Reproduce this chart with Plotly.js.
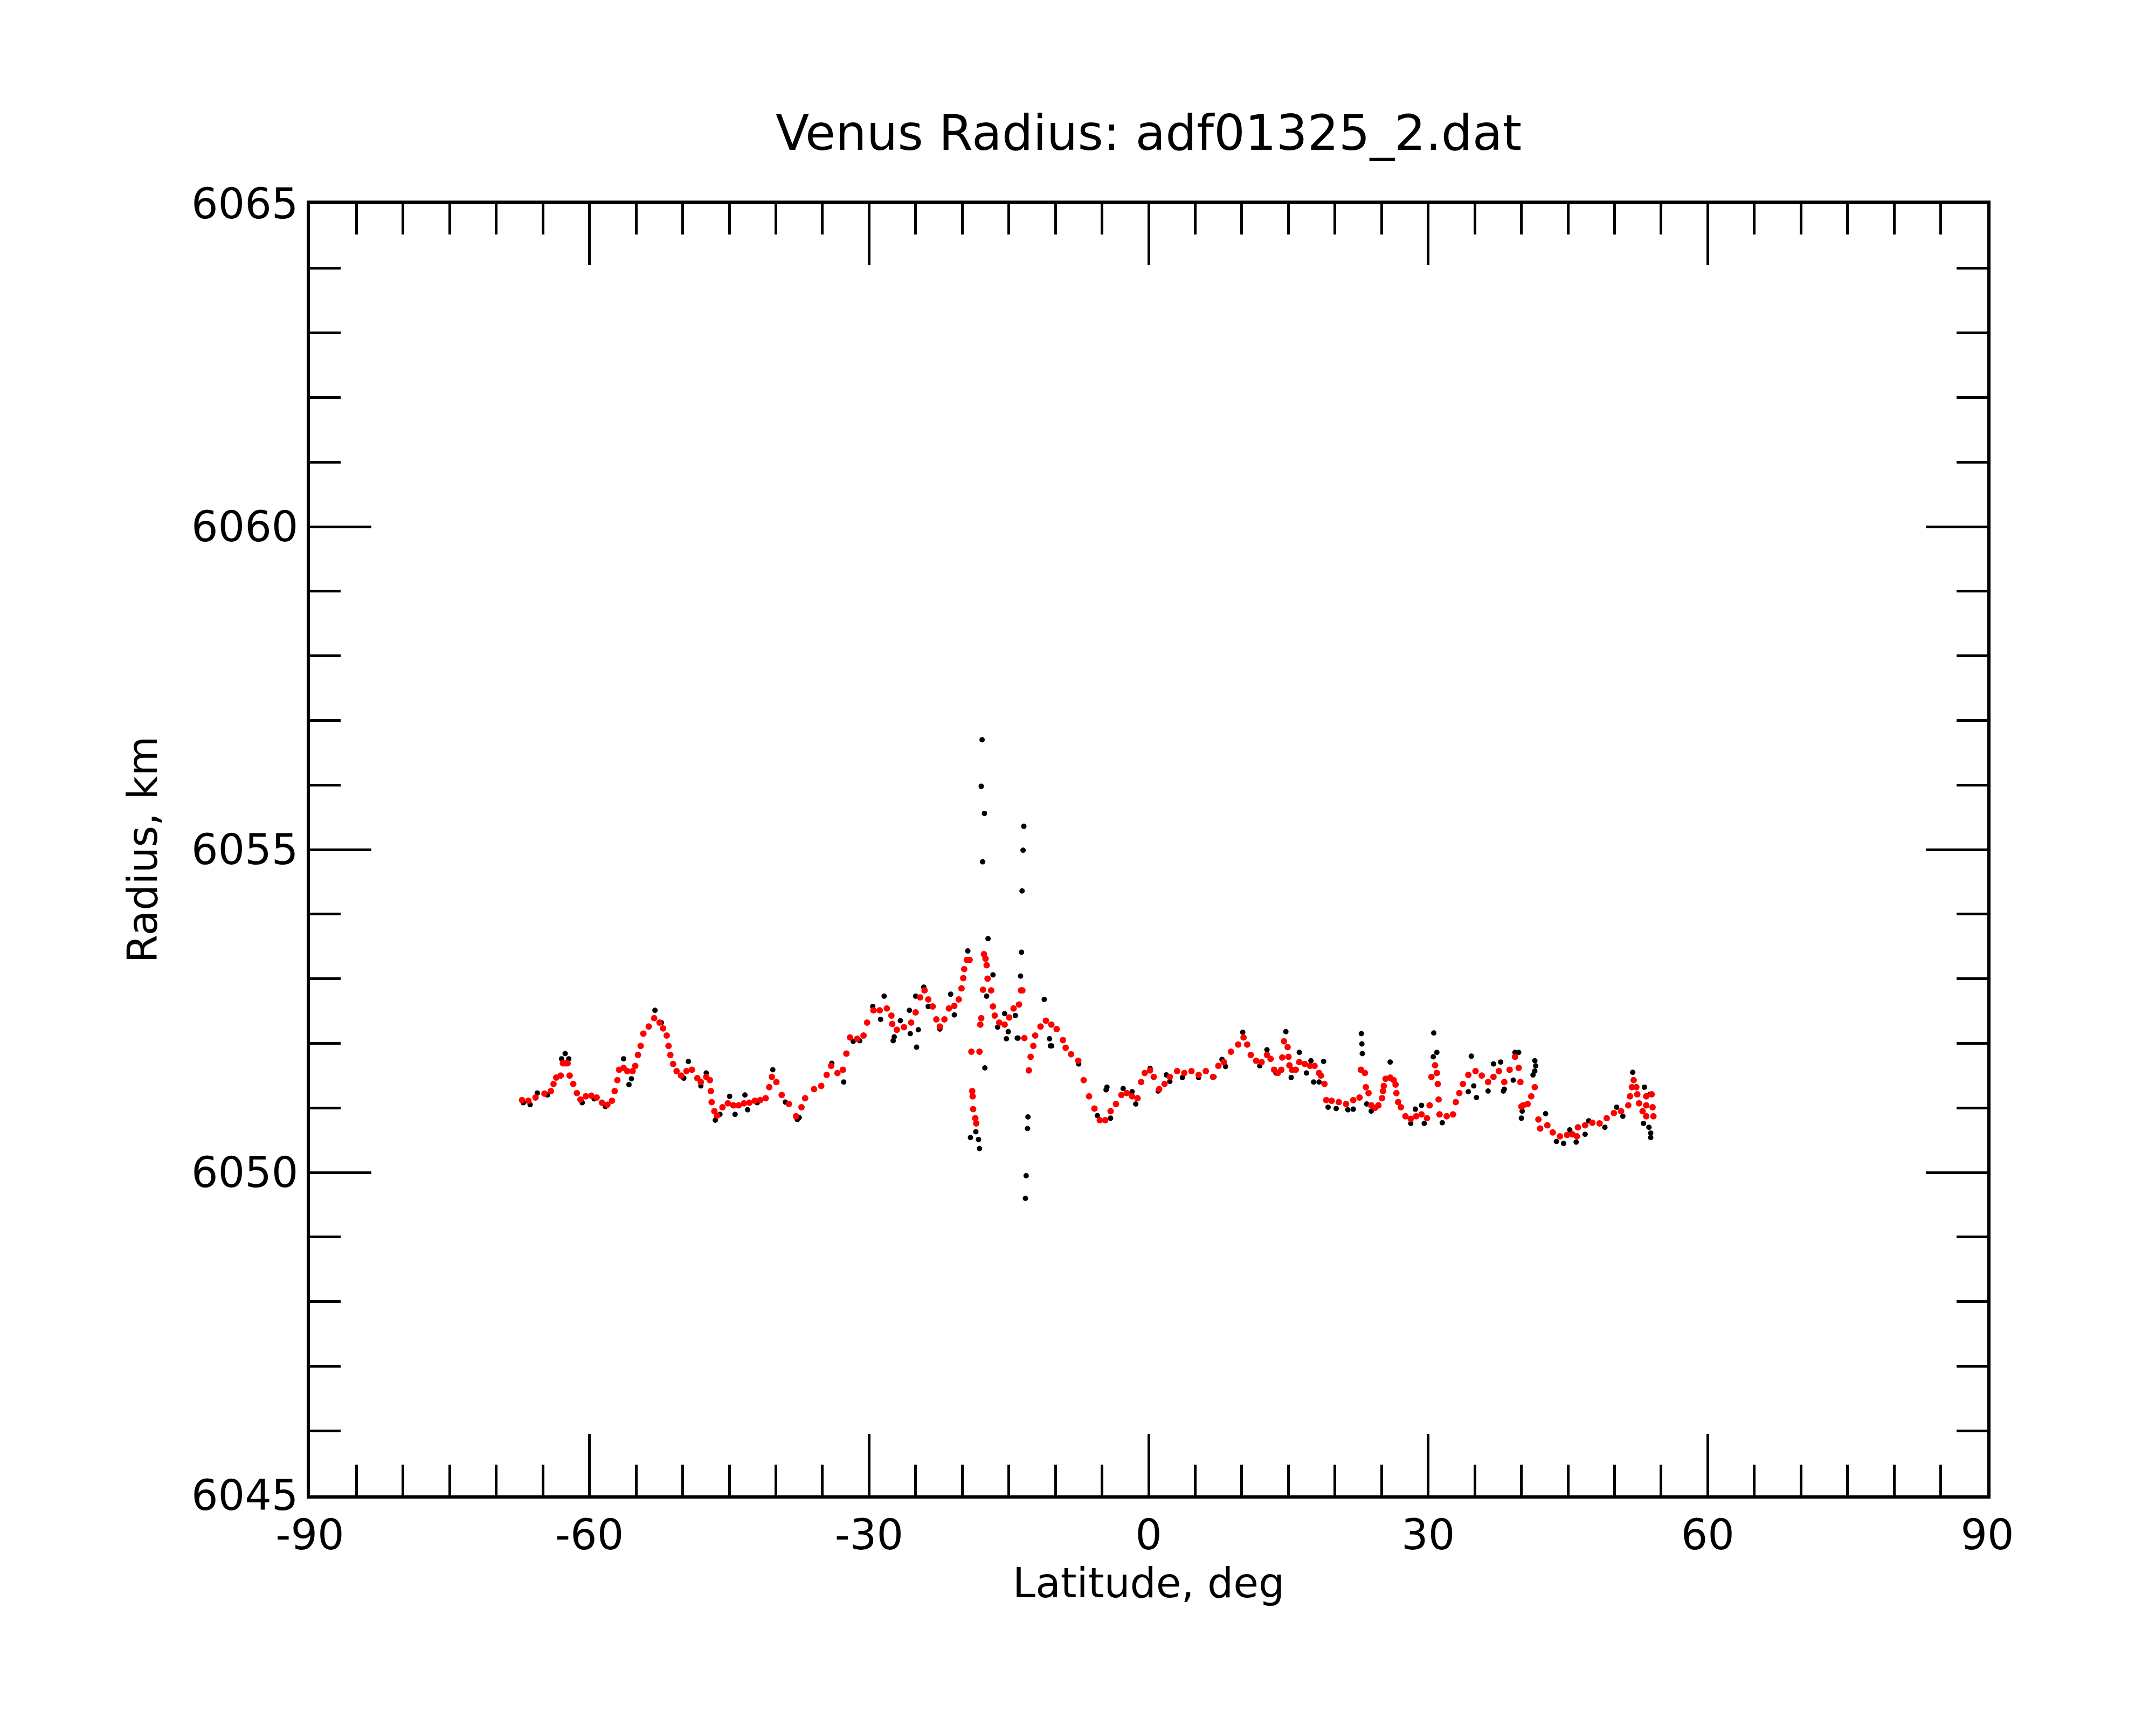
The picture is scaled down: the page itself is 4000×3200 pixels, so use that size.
<!DOCTYPE html>
<html>
<head>
<meta charset="utf-8">
<script src="https://cdn.plot.ly/plotly-3.0.1.min.js"></script>
<style>html,body{margin:0;padding:0;background:#fff;}</style>
</head>
<body>
<div id="chart" style="width:4000px;height:3200px;"></div>
<script>
// Smoothed radius (red)
const smoothLat = [-67.24,-66.56,-65.79,-64.83,-64.15,-63.86,-63.57,-63.09,-62.85,-62.6,-62.35,-62.13,-61.74,-61.35,-60.97,-60.39,-59.81,-59.23,-58.66,-58.08,-57.59,-57.30,-57.01,-56.82,-56.34,-55.95,-55.37,-55.09,-54.8,-54.51,-54.22,-53.64,-53.06,-52.48,-52.1,-51.71,-51.52,-51.32,-51.03,-50.65,-50.17,-49.59,-49.01,-48.43,-48.05,-47.47,-47.08,-46.98,-46.89,-46.6,-46.31,-45.73,-45.15,-44.57,-44.0,-43.42,-42.84,-42.26,-41.68,-41.1,-40.71,-40.43,-39.94,-39.37,
-38.6,-37.83,-37.25,-36.86,-35.9,-35.13,-34.55,-34.07,-33.39,-32.81,-32.43,-32.04,-31.27,-30.59,-30.21,-29.53,-28.86,-28.09,-27.6,-27.51,-27.02,-26.25,-25.48,-25.0,-24.52,-24.04,-23.65,-23.17,-22.78,-22.4,-21.91,-21.43,-20.85,-20.37,-20.08,-19.89,-19.79,-19.5,-19.21,-19.02,-18.93,-18.88,-18.83,-18.6,-18.5,-18.15,-18.06,-17.96,-17.77,-17.67,-17.5,-17.38,-17.28,-16.9,-16.70,-16.51,-16.03,-15.45,-14.97,-14.49,-13.91,-13.7,-13.55,-13.33,-12.85,-12.66,-12.37,-12.17,-11.6,-11.02,-10.44,
-9.87,-9.19,-8.9,-8.32,-7.55,-6.97,-6.39,-5.81,-5.24,-4.66,-4.08,-3.5,-2.92,-2.35,-1.77,-1.19,-0.8,-0.42,0.16,0.55,1.13,1.71,2.28,3.06,3.83,4.6,5.37,6.14,6.91,7.49,8.07,8.84,9.61,10.19,10.58,10.96,11.54,12.12,12.7,13.09,13.47,13.86,14.24,14.34,14.53,14.92,15.01,15.11,15.4,15.79,16.17,16.75,17.33,17.81,18.29,18.49,18.87,19.06,19.64,20.41,21.19,21.96,22.63,22.78,23.21,23.31,23.6,23.89,24.28,
24.66,25.05,25.15,25.24,25.43,25.92,26.3,26.5,26.59,26.78,27.07,27.56,28.13,28.71,29.29,29.87,30.16,30.35,30.74,30.93,31.03,31.12,31.22,31.99,32.67,32.96,33.34,33.73,34.31,35.08,35.75,36.43,37.01,37.59,38.17,38.74,39.32,39.71,39.9,40.0,40.19,40.67,41.06,41.44,41.83,42.02,42.79,43.37,44.14,44.91,45.49,45.97,46.07,46.84,47.61,48.39,49.16,49.93,50.7,51.47,51.66,51.86,52.05,52.34,52.44,52.63,53.01,53.4,53.4,53.4,53.98,54.08,54.17];
const smoothRadius = [6051.12,6051.11,6051.16,6051.22,6051.26,6051.37,6051.47,6051.50,6051.69,6051.69,6051.69,6051.50,6051.37,6051.23,6051.13,6051.18,6051.19,6051.16,6051.08,6051.05,6051.11,6051.26,6051.43,6051.59,6051.62,6051.57,6051.57,6051.65,6051.82,6051.96,6052.15,6052.26,6052.39,6052.32,6052.23,6052.12,6051.96,6051.82,6051.68,6051.57,6051.50,6051.57,6051.59,6051.46,6051.40,6051.48,6051.43,6051.26,6051.09,6050.95,6050.88,6051.01,6051.07,6051.04,6051.04,6051.07,6051.08,6051.11,6051.12,6051.15,6051.32,6051.48,6051.40,6051.20,
6051.06,6050.87,6051.01,6051.15,6051.29,6051.34,6051.51,6051.65,6051.54,6051.59,6051.84,6052.09,6052.07,6052.12,6052.32,6052.51,6052.51,6052.54,6052.43,6052.30,6052.21,6052.25,6052.32,6052.48,6052.71,6052.82,6052.68,6052.57,6052.37,6052.26,6052.37,6052.54,6052.58,6052.68,6052.85,6053.01,6053.15,6053.29,6053.29,6051.87,6051.26,6051.18,6050.98,6050.84,6050.76,6051.87,6052.29,6052.39,6052.83,6053.38,6053.31,6053.21,6053.00,6052.82,6052.57,6052.43,6052.32,6052.29,6052.40,6052.54,6052.60,6052.82,6052.82,6052.08,6051.58,6051.79,6051.96,6052.12,6052.26,6052.35,6052.29,
6052.22,6052.05,6051.93,6051.83,6051.73,6051.43,6051.18,6050.99,6050.81,6050.81,6050.95,6051.06,6051.20,6051.23,6051.18,6051.15,6051.40,6051.54,6051.58,6051.48,6051.29,6051.37,6051.48,6051.57,6051.54,6051.57,6051.51,6051.57,6051.48,6051.65,6051.71,6051.87,6051.98,6052.09,6051.98,6051.82,6051.73,6051.71,6051.82,6051.76,6051.59,6051.54,6051.59,6051.78,6052.03,6051.94,6051.79,6051.66,6051.59,6051.59,6051.71,6051.68,6051.65,6051.65,6051.54,6051.50,6051.37,6051.12,6051.11,6051.09,6051.06,6051.12,6051.16,6051.59,6051.54,6051.32,6051.23,6051.04,6051.00,
6051.04,6051.15,6051.26,6051.34,6051.45,6051.47,6051.43,6051.36,6051.23,6051.09,6051.01,6050.87,6050.83,6050.87,6050.90,6050.84,6051.04,6051.48,6051.66,6051.54,6051.37,6051.13,6050.90,6050.87,6050.90,6051.09,6051.23,6051.37,6051.51,6051.57,6051.50,6051.40,6051.48,6051.57,6051.40,6051.59,6051.79,6051.62,6051.40,6051.02,6051.04,6051.06,6051.18,6051.32,6050.82,6050.68,6050.73,6050.62,6050.56,6050.58,6050.59,6050.56,6050.70,6050.73,6050.77,6050.76,6050.84,6050.92,6050.95,6051.04,6051.18,6051.32,6051.43,6051.32,6051.21,6051.07,6050.95,6050.87,6051.04,6051.18,6051.21,6051.01,6050.87];

// Raw radius points (black) visible around the smoothed curve
const rawLat = [-67.1,-66.37,-65.6,-64.5,-63.0,-62.61,-62.22,-60.78,-59.5,-58.3,-56.34,-55.76,-55.5,-52.97,-52.29,-49.88,-49.39,-48.05,-47.47,-46.5,-46.0,-44.96,-44.38,-43.32,-43.03,-42.0,-40.33,-38.98,
-37.7,-37.5,-34.0,-32.72,-31.7,-31.0,-29.6,-28.76,-28.38,-27.41,-27.3,-26.64,-25.67,-25.58,-25.0,-24.9,-24.71,-24.13,-23.65,-22.4,-21.24,-20.85,-19.4,-19.12,-18.54,-18.25,-18.15,-17.96,-17.87,-17.81,-17.62,-17.57,-17.38,-17.23,-16.7,-16.2,-15.45,-15.26,-15.06,-14.3,-14.1,-14.01,-13.74,-13.64,-13.58,-13.47,-13.39,-13.22,-13.14,-12.99,-12.95,-11.2,-10.63,-10.54,-10.4,
-7.5,-5.5,-4.56,-4.47,-4.08,-2.73,-1.77,-1.38,0.16,1.03,1.9,2.28,3.63,5.37,7.01,7.88,8.26,10.1,11.93,12.7,13.67,14.73,15.3,16.17,16.94,17.42,17.71,18.29,18.78,19.26,20.13,21.38,21.96,22.83,22.89,22.93,23.41,23.89,
25.92,26.0,28.13,28.62,29.29,29.58,30.55,30.60,30.93,31.51,34.31,34.63,34.89,35.18,36.43,37.01,37.78,38.07,38.17,39.13,39.32,39.71,40.0,40.09,41.25,41.44,41.45,41.54,42.6,43.76,44.53,45.2,45.88,46.84,47.23,48.96,50.22,50.89,51.95,53.11,53.21,53.69,53.79,53.88,53.88];
const rawRadius = [6051.08,6051.05,6051.23,6051.20,6051.76,6051.84,6051.76,6051.08,6051.14,6051.02,6051.76,6051.36,6051.45,6052.51,6052.32,6051.46,6051.72,6051.34,6051.54,6050.81,6050.90,6051.18,6050.90,6051.20,6050.97,6051.08,6051.59,6051.09,
6050.82,6050.85,6051.69,6051.40,6052.03,6052.04,6052.57,6052.37,6052.73,6052.04,6052.10,6052.35,6052.51,6052.15,6052.73,6051.94,6052.21,6052.87,6052.57,6052.22,6052.76,6052.44,6053.43,6050.54,6050.63,6050.51,6050.37,6055.98,6056.70,6054.81,6055.56,6051.62,6052.73,6053.62,6053.06,6052.25,6052.46,6052.07,6052.18,6052.43,6052.08,6052.08,6053.04,6053.41,6054.36,6054.99,6055.36,6049.60,6049.95,6050.68,6050.86,6052.68,6052.07,6051.96,6051.96,
6051.68,6050.88,6051.28,6051.32,6050.84,6051.30,6051.25,6051.06,6051.61,6051.26,6051.51,6051.41,6051.47,6051.47,6051.48,6051.75,6051.64,6052.17,6051.65,6051.90,6051.54,6052.18,6051.47,6051.86,6051.54,6051.73,6051.40,6051.40,6051.72,6051.01,6050.99,6050.97,6050.98,6052.15,6051.99,6051.84,6051.06,6050.95,
6051.71,6051.45,6050.76,6050.98,6051.04,6050.76,6051.79,6052.16,6051.86,6050.77,6051.25,6051.80,6051.34,6051.16,6051.26,6051.68,6051.71,6051.26,6051.29,6051.43,6051.86,6051.86,6050.84,6050.95,6051.51,6051.57,6051.73,6051.65,6050.91,6050.48,6050.45,6050.66,6050.47,6050.59,6050.80,6050.70,6051.01,6050.87,6051.55,6050.76,6051.32,6050.70,6051.21,6050.61,6050.54];

const xTickVals = [-90,-60,-30,0,30,60,90];
const xTickText = ['-90','-60','-30','0','30','60','90'];
const yTickVals = [6045,6050,6055,6060,6065];
const yTickText = ['6045','6050','6055','6060','6065'];

const FONT = 'DejaVu Sans, sans-serif';

const traces = [
  {x: rawLat, y: rawRadius, type: 'scatter', mode: 'markers',
   marker: {color: '#000000', size: 10, line: {width: 0}}, hoverinfo: 'skip'},
  {x: smoothLat, y: smoothRadius, type: 'scatter', mode: 'markers',
   marker: {color: '#ff0000', size: 12, line: {width: 0}}, hoverinfo: 'skip'}
];

const axisCommon = {
  showgrid: false, zeroline: false, showline: true, linecolor: '#000', linewidth: 6,
  mirror: 'ticks', ticks: 'inside', tickcolor: '#000', tickwidth: 5, ticklen: 114,
  tickmode: 'array', tickfont: {family: FONT, size: 78, color: '#000'}
};

const layout = {
  width: 4000, height: 3200,
  paper_bgcolor: '#fff', plot_bgcolor: '#fff',
  showlegend: false,
  margin: {l: 575, r: 313, t: 378, b: 426, pad: 0},
  font: {family: FONT, color: '#000'},
  title: {text: 'Venus Radius: adf01325_2.dat', font: {family: FONT, size: 91, color: '#000'},
          x: 0.5, xref: 'paper', xanchor: 'center', y: 0.923, yref: 'container', yanchor: 'middle'},
  xaxis: Object.assign({}, axisCommon, {
    range: [-90, 90], tickvals: xTickVals, ticktext: xTickText,
    minor: {dtick: 5, tick0: 0, ticks: 'inside', ticklen: 57, tickwidth: 5, tickcolor: '#000', showgrid: false},
    title: {text: 'Latitude, deg', font: {family: FONT, size: 76, color: '#000'}, standoff: 0}
  }),
  yaxis: Object.assign({}, axisCommon, {
    range: [6045, 6065], tickvals: yTickVals, ticktext: yTickText,
    minor: {dtick: 1, tick0: 6045, ticks: 'inside', ticklen: 57, tickwidth: 5, tickcolor: '#000', showgrid: false},
    title: {text: 'Radius, km', font: {family: FONT, size: 76, color: '#000'}, standoff: 40}
  })
};

Plotly.newPlot('chart', traces, layout, {staticPlot: true, displayModeBar: false});
</script>
</body>
</html>
